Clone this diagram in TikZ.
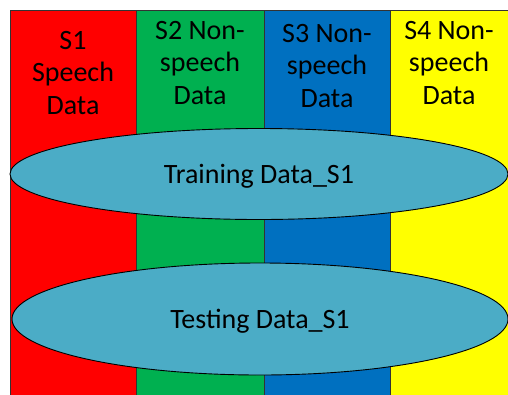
\documentclass[tikz,border=0pt]{standalone}
\usepackage{fontspec}
\setmainfont{Carlito}
\usetikzlibrary{shapes.geometric}
\definecolor{colred}{HTML}{FF0000}
\definecolor{colgreen}{HTML}{00B050}
\definecolor{colblue}{HTML}{0070C0}
\definecolor{colyellow}{HTML}{FFFF00}
\definecolor{setfill}{HTML}{4BACC6}
\tikzset{
  column/.style={draw=black!80, line width=0.8pt},
  collabel/.style={align=center, font=\fontsize{28}{32.5}\selectfont, inner sep=0pt},
  dataset/.style={ellipse, draw=black, line width=0.9pt, fill=setfill, inner sep=0pt,
    font=\fontsize{28}{33}\selectfont, text height=18pt, text depth=0pt},
}
\begin{document}
\begin{tikzpicture}[x=1pt,y=-1pt]
  \useasboundingbox (0,0) rectangle (508,394);
  \begin{scope}
    \clip (0,0) rectangle (508,394);
    % four data columns
    \fill[colred]    (10,10)  rectangle (136.5,400);
    \fill[colgreen]  (136.5,10) rectangle (264,400);
    \fill[colblue]   (264,10) rectangle (390,400);
    \fill[colyellow] (390,10) rectangle (520,400);
    \draw[column] (10,400) -- (10,10) -- (520,10);
    \draw[column] (136.5,10) -- (136.5,400);
    \draw[column] (264,10) -- (264,400);
    \draw[column] (390,10) -- (390,400);
    % column labels
    \node[collabel] (c1) at (73,73) {S1\\Speech\\Data};
    \node[collabel] (c2) at (200,63) {S2 Non-\\speech\\Data};
    \node[collabel] (c3) at (327,66) {S3 Non-\\speech\\Data};
    \node[collabel] (c4) at (449,63) {S4 Non-\\speech\\Data};
    % training and testing sets
    \node[dataset, minimum width=498pt, minimum height=91pt] (train) at (259,174) {Training Data\_S1};
    \node[dataset, minimum width=496pt, minimum height=112pt] (test) at (260,319) {Testing Data\_S1};
  \end{scope}
\end{tikzpicture}
\end{document}
